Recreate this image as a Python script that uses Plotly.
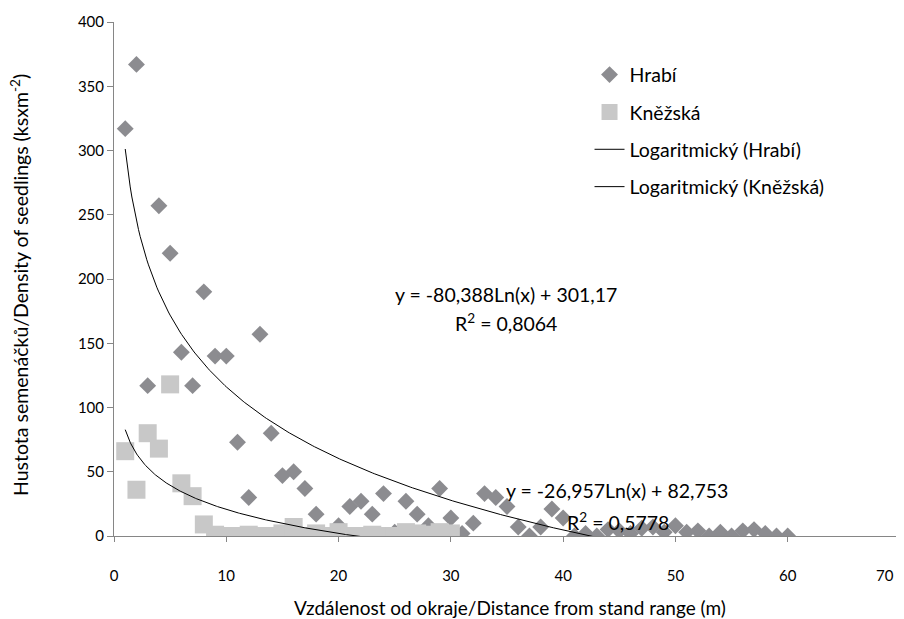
import numpy as np
import plotly.graph_objects as go

# ---- data ----
hrabi_x = list(range(1, 61))
hrabi_y = [317, 367, 117, 257, 220, 143, 117, 190, 140, 140,
           73, 30, 157, 80, 47, 50, 37, 17, 0, 8,
           23, 27, 17, 33, 3, 27, 17, 8, 37, 14,
           2, 10, 33, 30, 23, 7, 0, 7, 21, 14,
           0, 2, 0, 5, 4, 2, 6, 7, 3, 8,
           3, 4, 0, 3, 0, 4, 5, 2, 0, 0]

knezska_x = list(range(1, 31))
knezska_y = [66, 36, 80, 68, 118, 41, 31, 9, 1, 0,
             0, 1, 0, 0, 2, 7, 0, 2, 0, 3,
             0, 0, 1, 0, 0, 3, 2, 1, 3, 2]

# trendline coefficients as printed on the chart (y = a*Ln(x) + b)
hrabi_a, hrabi_b = -80.388, 301.17
knezska_a, knezska_b = -26.957, 82.753

x_ticks = [0, 10, 20, 30, 40, 50, 60, 70]
x_tick_labels = ["0", "10", "20", "30", "40", "50", "60", "70"]
y_ticks = [0, 50, 100, 150, 200, 250, 300, 350, 400]

FONT = "Lato"
AXIS_COL = "#868686"
OFF = 8                      # page offset of the figure (default body margin)
FW, FH = 904 - OFF, 619 - OFF
L, T, W, H = 114 - OFF, 22 - OFF, 786, 514  # plot area in figure pixels

def trend(xs, a, b):
    xx = np.linspace(min(xs), max(xs), 400)
    return xx, a * np.log(xx) + b

fig = go.Figure()
fig.add_trace(go.Scatter(
    x=hrabi_x, y=hrabi_y, mode="markers", name="Hrabí", legendgroup="a",
    marker=dict(symbol="diamond", size=13, color="#8c8c90", line=dict(width=0))))
fig.add_trace(go.Scatter(
    x=knezska_x, y=knezska_y, mode="markers", name="Kněžská", legendgroup="b",
    marker=dict(symbol="square", size=18, color="#c8c8c8", line=dict(width=0))))
tx, ty = trend(hrabi_x, hrabi_a, hrabi_b)
fig.add_trace(go.Scatter(x=tx, y=ty, mode="lines", name="Logaritmický (Hrabí)",
                         legendgroup="c", line=dict(color="black", width=1)))
tx, ty = trend(knezska_x, knezska_a, knezska_b)
fig.add_trace(go.Scatter(x=tx, y=ty, mode="lines", name="Logaritmický (Kněžská)",
                         legendgroup="d", line=dict(color="black", width=1)))

# last label padded so it stays inside the page, as in the reference
tick_text = x_tick_labels[:-1] + [x_tick_labels[-1] + "&nbsp;" * 8]

fig.update_layout(
    width=FW, height=FH,
    margin=dict(l=L, r=FW - L - W, t=T, b=FH - T - H, autoexpand=False),
    paper_bgcolor="white", plot_bgcolor="white",
    font=dict(family=FONT, size=15, color="black"),
    showlegend=True,
    legend=dict(x=0.605, y=0.935, xanchor="left", yanchor="top",
                font=dict(family=FONT, size=19.5, color="black"),
                traceorder="grouped", tracegroupgap=9,
                bgcolor="rgba(0,0,0,0)"),
    xaxis=dict(range=[0, 70], tickvals=x_ticks, ticktext=tick_text,
               showgrid=False, zeroline=False, automargin=False,
               showline=True, linecolor=AXIS_COL, linewidth=1,
               ticks="outside", ticklen=5, tickcolor=AXIS_COL,
               ticklabelstandoff=21, ticklabeloverflow="allow",
               tickfont=dict(family=FONT, size=15, color="black")),
    yaxis=dict(range=[0, 400], tickvals=y_ticks, showgrid=False, zeroline=False,
               automargin=False,
               showline=True, linecolor=AXIS_COL, linewidth=1,
               ticks="outside", ticklen=6, tickcolor=AXIS_COL,
               tickfont=dict(family=FONT, size=15, color="black")),
)

def px_anno(text, x, y, size, angle=0):
    # x, y given in page pixels of the reference
    fx, fy = x - OFF, y - OFF
    fig.add_annotation(text=text, xref="paper", yref="paper",
                       x=(fx - L) / W, y=(T + H - fy) / H,
                       xanchor="center", yanchor="middle", showarrow=False,
                       textangle=angle,
                       font=dict(family=FONT, size=size, color="black"))

px_anno("y = -80,388Ln(x) + 301,17", 506, 294, 19.5)
px_anno("R<sup>2</sup> = 0,8064", 506, 323, 19.5)
px_anno("y = -26,957Ln(x) + 82,753", 617, 490, 19.5)
px_anno("R<sup>2</sup> = 0,5778", 618, 521, 19.5)
px_anno("Vzdálenost od okraje/Distance from stand range (m)", 510, 607, 19)
px_anno("Hustota semenáčků/Density of seedlings (ksxm<sup>-2</sup>)", 19, 285, 19.5, -90)

fig.write_html("out.html")
